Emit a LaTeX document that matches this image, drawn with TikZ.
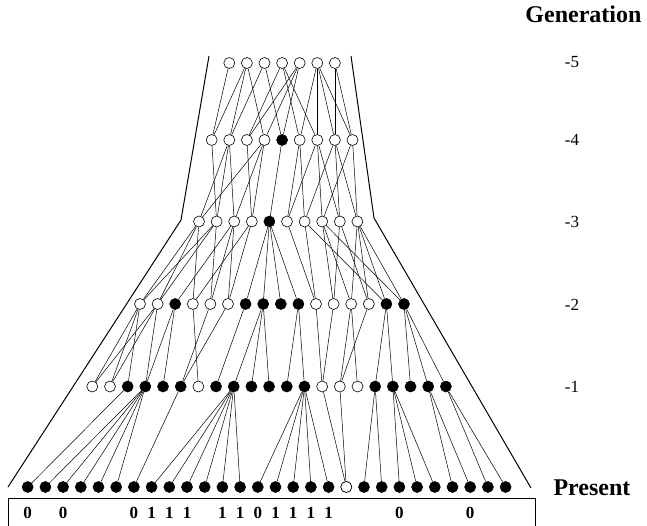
\documentclass[tikz,border=0pt]{standalone}
\usepackage{fontspec}
\setmainfont{Liberation Serif}
\usetikzlibrary{positioning}
\tikzset{
  ind/.style={
    circle, draw, fill=white,
    line width=0.6pt, inner sep=0pt,
    minimum size=11pt
  },
  indb/.style={ind, fill=black},
  link/.style={line width=0.5pt, black},
  rim/.style={line width=1pt},
  genlbl/.style={font=\fontsize{17}{17}\selectfont},
  bitlbl/.style={font=\fontsize{17}{17}\selectfont\bfseries}
}

\begin{document}
\begin{tikzpicture}[
  x=1pt, y=-1pt,
  headlbl/.style={font=\fontsize{24}{24}\selectfont\bfseries},
]
\useasboundingbox (0,0) rectangle (647,526);

% Generaciones -5 ... -1 y presente
\foreach \s [count=\i from 0] in {ind,ind,ind,ind,ind,ind,ind}
  \node[\s] (a\i) at ({229.3+17.6*\i},63) {};
\foreach \s [count=\i from 0] in {ind,ind,ind,ind,indb,ind,ind,ind,ind}
  \node[\s] (b\i) at ({211.7+17.6*\i},140) {};
\foreach \s [count=\i from 0] in {ind,ind,ind,ind,indb,ind,ind,ind,ind,ind}
  \node[\s] (c\i) at ({199+17.6*\i},221.5) {};
\foreach \s [count=\i from 0] in {ind,ind,indb,ind,ind,ind,indb,indb,indb,indb,ind,ind,ind,ind,indb,indb}
  \node[\s] (d\i) at ({140+17.6*\i},304) {};
\foreach \s [count=\i from 0] in {ind,ind,indb,indb,indb,indb,ind,indb,indb,indb,indb,indb,indb,ind,ind,ind,indb,indb,indb,indb,indb}
  \node[\s] (e\i) at ({92.3+17.68*\i},386.5) {};
\foreach \i in {0,...,27}
  \node[indb] (p\i) at ({27.7+17.7*\i},487) {};
\node[ind] (p18) at ({27.7+17.7*18},487) {};

% Contorno
\draw[rim] (209,56) -- (181,220) -- (8,487);
\draw[rim] (351,56) -- (374,218) -- (531,488);

% -5 a -4
\foreach \u/\l in {a0/b0, a1/b0, a1/b1, a1/b3, a2/b1, a2/b4,
  a3/b2, a3/b5, a3/b6, a4/b2, a4/b3, a4/b4, a5/b5, a5/b6, a5/b7, a5/b8,
  a6/b7, a6/b8}
  \draw[link] (\u) -- (\l);
% -4 a -3
\foreach \u/\l in {b1/c0, b3/c0, b0/c1, b1/c1, b1/c2, b3/c2, b2/c3, b3/c3,
  b4/c4, b5/c5, b6/c5, b5/c6, b7/c6, b6/c7, b8/c7, b7/c8, b6/c8, b8/c9, b7/c9}
  \draw[link] (\u) -- (\l);
% -3 a -2
\foreach \u/\l in {c0/d0, c0/d1, c0/d3, c1/d0, c1/d1, c1/d4, c2/d2, c2/d4,
  c2/d5, c3/d3, c3/d5, c4/d6, c4/d7, c4/d8, c4/d9, c5/d10, c6/d10, c6/d14,
  c7/d11, c7/d12, c7/d15, c8/d11, c8/d13, c9/d12, c9/d13, c9/d14, c9/d15}
  \draw[link] (\u) -- (\l);
% -2 a -1
\foreach \u/\l in {d0/e0, d0/e1, d0/e2, d1/e0, d1/e1, d1/e3, d2/e3, d2/e4,
  d3/e6, d4/e5, d5/e5, d6/e7, d7/e8, d7/e9, d7/e10, d9/e11, d9/e12,
  d10/e13, d11/e13, d12/e14, d12/e15, d13/e14, d14/e16, d14/e17,
  d15/e18, d15/e19, d15/e20}
  \draw[link] (\u) -- (\l);
% -1 a presente
\foreach \u/\l in {e2/p0, e3/p1, e3/p2, e3/p3, e3/p4, e3/p5, e5/p6,
  e8/p7, e8/p8, e8/p9, e8/p10, e8/p11, e8/p12,
  e12/p13, e12/p14, e12/p15, e12/p16, e12/p17, e13/p18, e14/p18,
  e16/p19, e16/p20, e17/p21, e17/p22, e17/p23, e19/p24, e19/p25,
  e20/p26, e20/p27}
  \draw[link] (\u) -- (\l);

% Etiquetas
\node[headlbl, anchor=east] (gen) at (645,14) {Generation};
\node[genlbl] (l5) at (572,62) {-5};
\node[genlbl] (l4) at (572,140) {-4};
\node[genlbl] (l3) at (572,221.5) {-3};
\node[genlbl] (l2) at (572,305) {-2};
\node[genlbl] (l1) at (572,386.5) {-1};
\node[headlbl] (pres) at (592,488) {Present};

% Secuencia
\draw[line width=0.8pt] (8,530) |- (535,498) -- (535,530);
\foreach \i/\b in {0/0, 2/0, 6/0, 7/1, 8/1, 9/1, 11/1, 12/1, 13/0, 14/1,
  15/1, 16/1, 17/1, 21/0, 25/0}
  \node[bitlbl] (s\i) at (p\i |- 0,513) {\b};

\end{tikzpicture}
\end{document}
